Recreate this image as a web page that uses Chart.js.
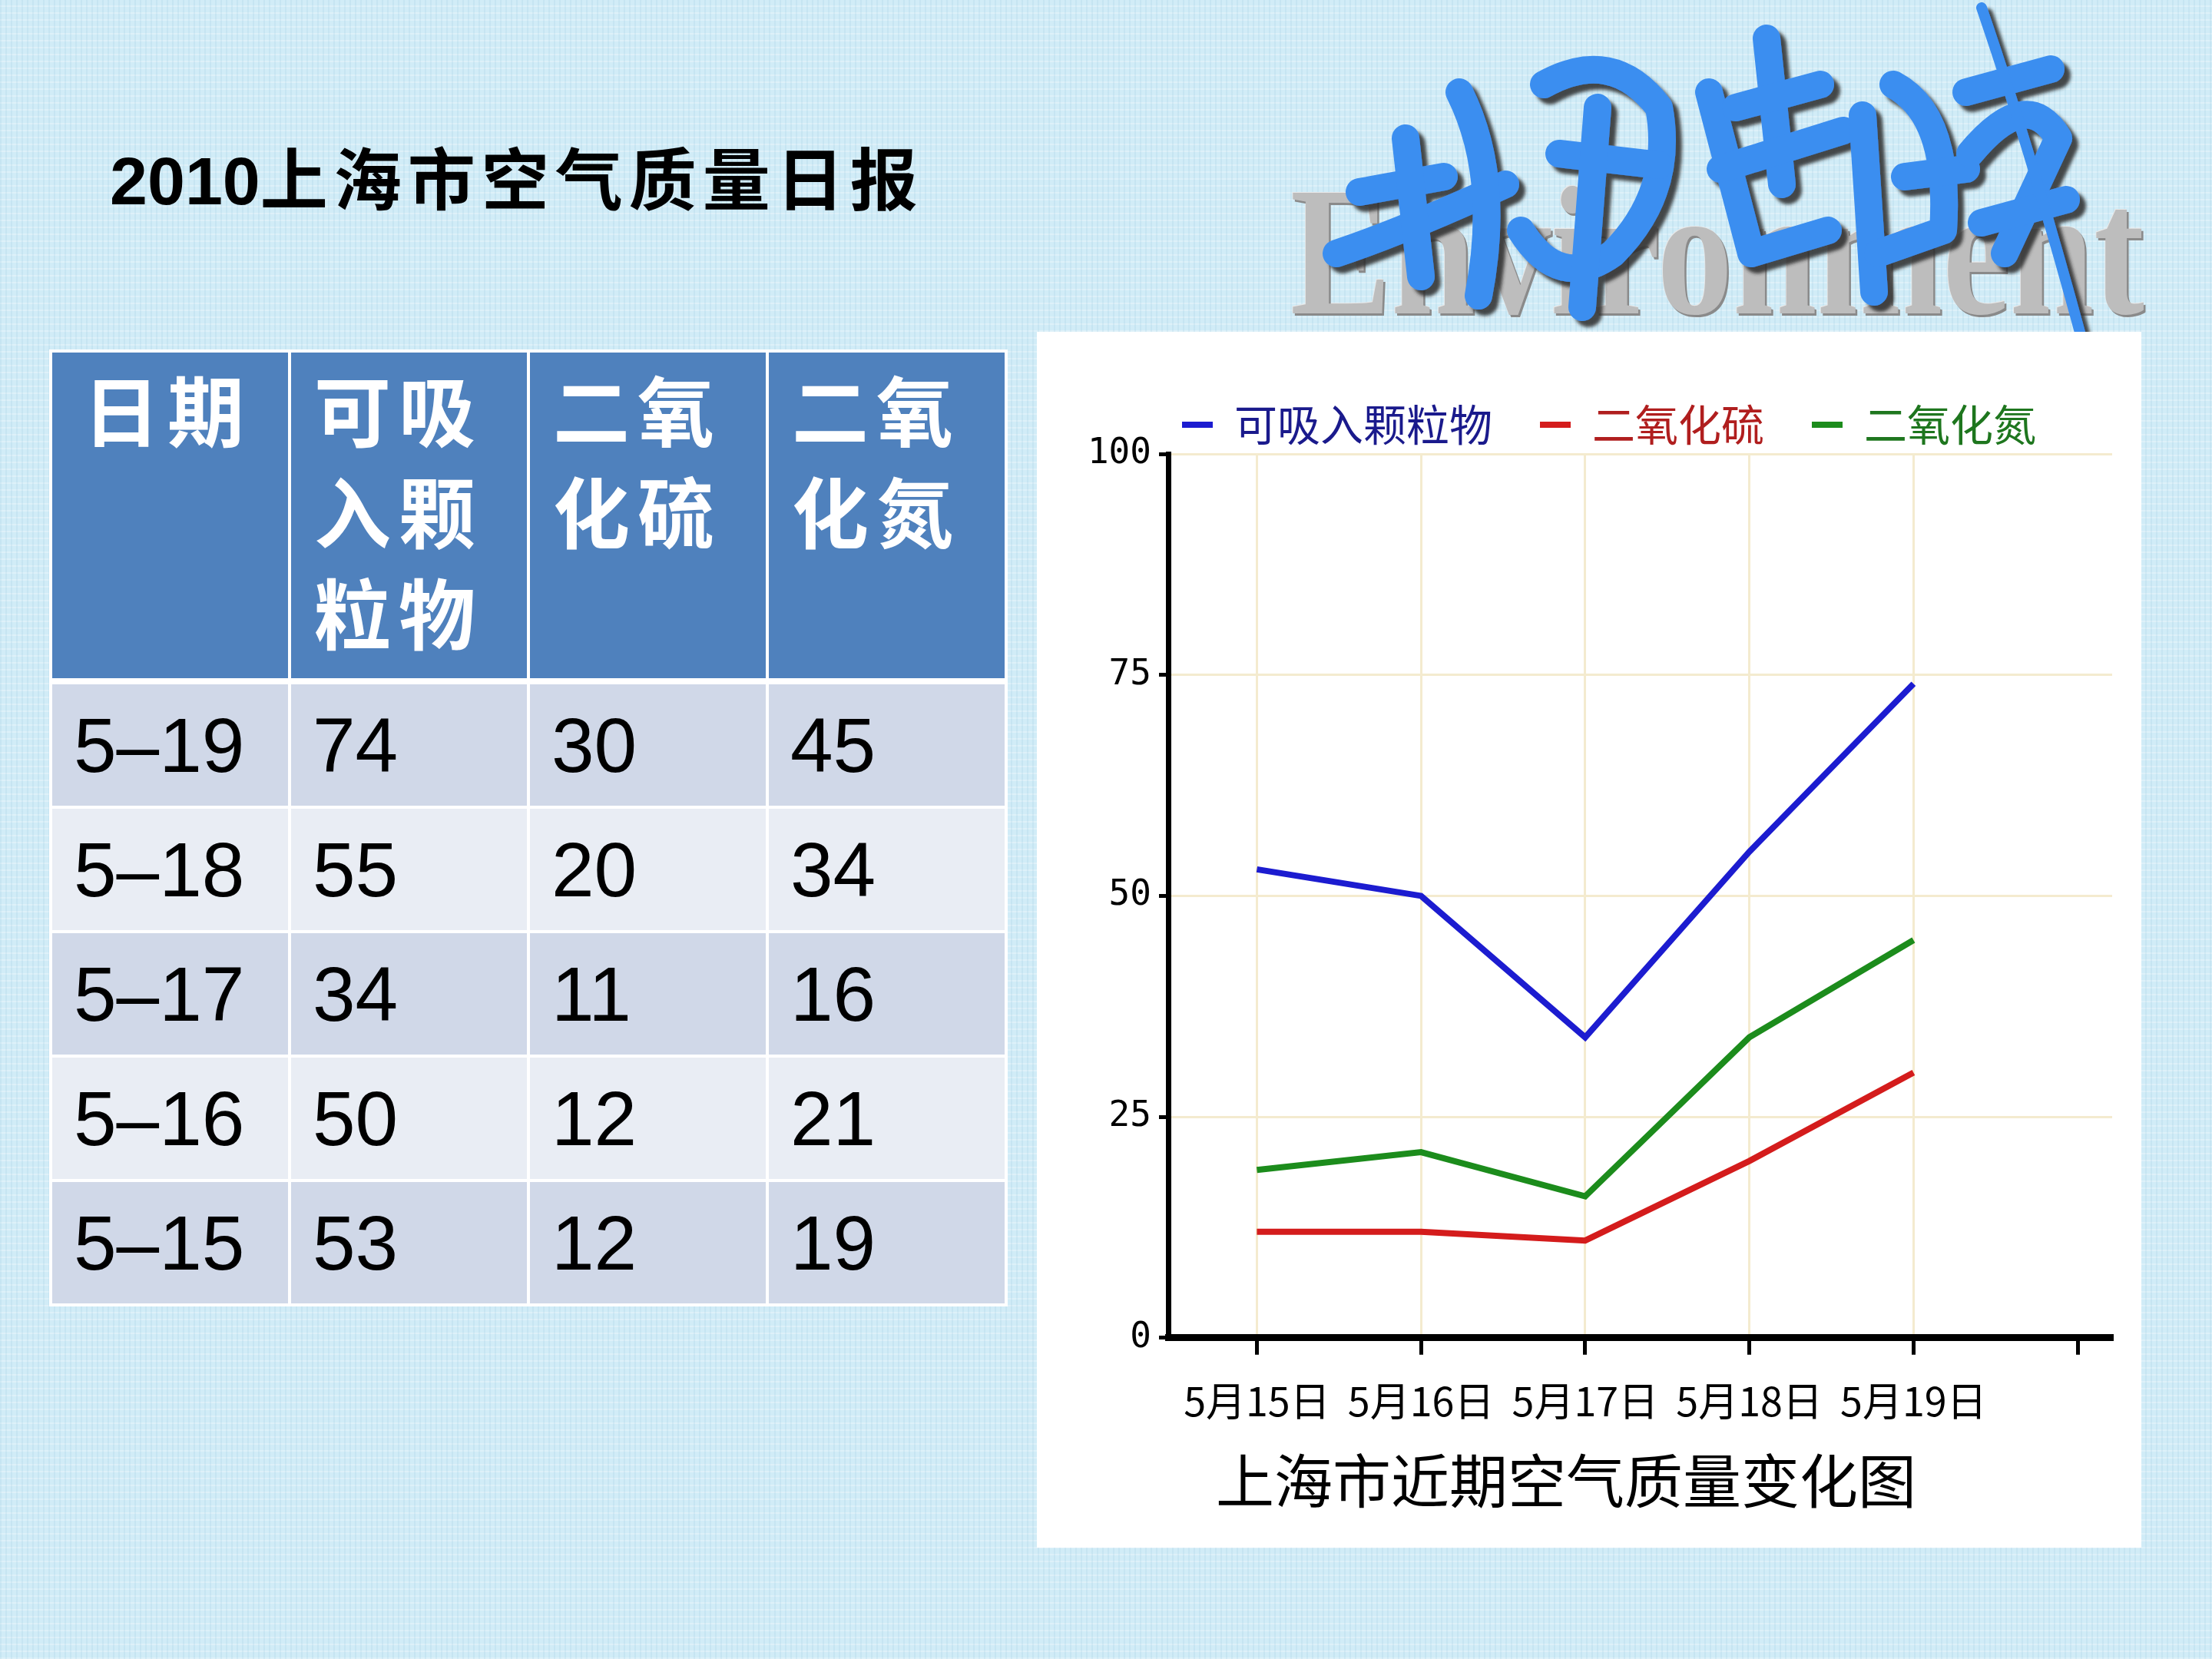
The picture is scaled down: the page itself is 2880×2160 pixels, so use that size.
<!DOCTYPE html>
<html>
<head>
<meta charset="utf-8">
<script src="https://cdn.jsdelivr.net/npm/chart.js"></script>
<style>
html, body { margin: 0; padding: 0; }
body {
  width: 2880px; height: 2160px; position: relative; overflow: hidden;
  background-color: #d1ecf7;
  background-image:
    repeating-linear-gradient(90deg, rgba(140,190,215,0.16) 0 2px, transparent 2px 7px),
    repeating-linear-gradient(0deg, rgba(255,255,255,0.28) 0 2px, transparent 2px 9px);
}
#title {
  position: absolute; left: 143px; top: 178px; line-height: 100px;
  font-size: 88px; font-weight: 700; color: #000; white-space: nowrap;
}
#title .num { font-family: "Liberation Sans", Arial, sans-serif; }
#title .cn { font-family: "Noto Sans CJK SC", sans-serif; letter-spacing: 8px; }

#tbl {
  position: absolute; left: 64px; top: 455px;
  border-collapse: collapse; table-layout: fixed;
}
#tbl th, #tbl td { border: 4px solid #fff; width: 277px; padding: 0 0 0 30px; text-align: left; }
#tbl th {
  background: #4f81bd; color: #fff; vertical-align: top;
  font-family: "Noto Sans CJK SC", sans-serif; font-weight: 700;
  font-size: 100px; line-height: 132px; letter-spacing: 10px;
  padding-top: 6px; border-bottom-width: 8px; height: 418px;
}
#tbl th:first-child { text-indent: 10px; }
#tbl td {
  font-family: "Liberation Sans", Arial, sans-serif; font-size: 100px; color: #000;
  vertical-align: middle; height: 158px; padding-left: 28px;
}
#tbl tr.odd td { background: #d0d8e8; }
#tbl tr.even td { background: #e9edf4; }

#panel { position: absolute; left: 1350px; top: 432px; width: 1438px; height: 1583px; background: #fff; }
#logoText {
  position: absolute; left: 1680px; top: 207px; line-height: 1;
  font-family: "Liberation Serif", serif; font-weight: 700; font-size: 240px;
  color: #bdbdbd; white-space: nowrap; transform-origin: 0 0;
  text-shadow: 3px 3px 0 #8a8a8a, -1px -1px 0 #e8e8e8;
}
#logoArt { position: absolute; left: 1680px; top: 0; }
</style>
</head>
<body>

<div id="title"><span class="num">2010</span><span class="cn">上海市空气质量日报</span></div>

<table id="tbl"></table>

<div id="logoText">Environment</div>
<svg id="logoArt" width="1200" height="460" viewBox="0 0 1200 460">
  <defs>
    <filter id="sh" x="-10%" y="-10%" width="130%" height="130%">
      <feDropShadow dx="8" dy="8" stdDeviation="2" flood-color="#2a2a2a" flood-opacity="0.85"/>
    </filter>
  </defs>
  <g filter="url(#sh)" stroke="#3b8ef0" stroke-width="36" stroke-linecap="round" stroke-linejoin="round" fill="none">
    <path d="M60 330 Q150 300 280 240"/>
    <path d="M90 250 L200 230"/>
    <path d="M150 180 L170 360"/>
    <path d="M220 120 Q275 230 245 385"/>
    <path d="M330 110 Q420 60 480 140 Q500 250 420 330 Q350 380 300 300"/>
    <path d="M350 200 L480 215"/>
    <path d="M400 140 L380 400"/>
    <path d="M545 120 L600 330 L700 300"/>
    <path d="M620 50 L640 240"/>
    <path d="M560 220 L720 170"/>
    <path d="M580 140 L690 110"/>
    <path d="M745 150 L760 380"/>
    <path d="M785 110 Q860 150 850 300 L765 330"/>
    <path d="M800 230 L880 220"/>
    <path d="M885 200 Q960 110 1000 180 L930 330"/>
    <path d="M900 290 L1010 260"/>
    <path d="M880 120 L990 90"/>
    <path d="M900 10 Q965 200 1030 440" stroke-width="14"/>
  </g>
</svg>

<div id="panel"><canvas id="myChart" width="1438" height="1583"></canvas></div>

<script>
// data
var dates = ['5月15日', '5月16日', '5月17日', '5月18日', '5月19日'];
var tableDates = ['5–15', '5–16', '5–17', '5–18', '5–19'];
var pm10 = [53, 50, 34, 55, 74];
var so2 = [12, 12, 11, 20, 30];
var no2 = [19, 21, 16, 34, 45];
var seriesNames = ['可吸入颗粒物', '二氧化硫', '二氧化氮'];
var headers = ['日期', '可吸<br>入颗<br>粒物', '二氧<br>化硫', '二氧<br>化氮'];

var lineColors = ['#1c1cd0', '#d41c1c', '#1c8c1c'];
var legendTextColors = ['#1a1a8c', '#b01e1e', '#1e761e'];

// table, newest day first
var tbl = document.getElementById('tbl');
var html = '<tr>' + headers.map(function (h) { return '<th>' + h + '</th>'; }).join('') + '</tr>';
for (var r = dates.length - 1, k = 0; r >= 0; r--, k++) {
  html += '<tr class="' + (k % 2 === 0 ? 'odd' : 'even') + '">' +
    '<td>' + tableDates[r] + '</td><td>' + pm10[r] + '</td><td>' + so2[r] + '</td><td>' + no2[r] + '</td></tr>';
}
tbl.innerHTML = html;

// stretch the logo word to its width
var lt = document.getElementById('logoText');
lt.style.transform = 'scaleX(' + (1112 / lt.offsetWidth) + ')';

function pts(arr) {
  return arr.map(function (v, i) { return { x: i + 1, y: v }; });
}

// legend and caption are not centred on the canvas in the original
var nudgeBlocks = {
  id: 'nudgeBlocks',
  afterLayout: function (chart) {
    chart.legend.left += 25; chart.legend.right += 25;
    chart.titleBlock.left -= 31; chart.titleBlock.right -= 31;
  }
};

var gridColor = '#f4ebcf';
var ctx = document.getElementById('myChart').getContext('2d');
var myChart = new Chart(ctx, {
  type: 'line',
  plugins: [nudgeBlocks],
  data: {
    datasets: [pm10, so2, no2].map(function (arr, i) {
      return {
        label: seriesNames[i],
        data: pts(arr),
        borderColor: lineColors[i],
        backgroundColor: lineColors[i],
        borderWidth: 8,
        pointRadius: 0,
        tension: 0
      };
    })
  },
  options: {
    responsive: false,
    animation: false,
    layout: { padding: { top: 31, left: 40, right: 38, bottom: 0 } },
    plugins: {
      tooltip: { enabled: false },
      legend: {
        position: 'top',
        maxHeight: 134,
        labels: {
          font: { family: 'Noto Sans CJK SC', size: 56 },
          boxWidth: 40,
          boxHeight: 8,
          padding: 62,
          generateLabels: function (chart) {
            var items = Chart.defaults.plugins.legend.labels.generateLabels(chart);
            items.forEach(function (it, i) {
              it.fontColor = legendTextColors[i];
              it.fillStyle = lineColors[i];
              it.strokeStyle = lineColors[i];
              it.lineWidth = 0;
            });
            return items;
          }
        }
      },
      title: {
        display: true,
        position: 'bottom',
        text: '上海市近期空气质量变化图',
        color: '#000',
        font: { family: 'Noto Sans CJK SC', size: 76, weight: 'normal' },
        padding: { top: 0, bottom: 41 }
      }
    },
    scales: {
      x: {
        type: 'linear',
        min: 0.46,
        max: 6.21,
        afterBuildTicks: function (axis) {
          axis.ticks = [1, 2, 3, 4, 5, 6].map(function (v) { return { value: v }; });
        },
        afterFit: function (s) { s.height = 141; },
        border: { color: '#000', width: 9 },
        grid: {
          color: function (c) { return c.tick && c.tick.value <= dates.length ? gridColor : 'rgba(0,0,0,0)'; },
          lineWidth: 3,
          tickColor: '#000',
          tickWidth: 5,
          tickLength: 22
        },
        ticks: {
          autoSkip: false,
          maxRotation: 0,
          padding: 29,
          color: '#000',
          font: { family: 'Noto Sans CJK SC', size: 52 },
          callback: function (v) { return dates[v - 1] || ''; }
        }
      },
      y: {
        min: 0,
        max: 100,
        afterFit: function (s) { s.width = 131; },
        border: { color: '#000', width: 7 },
        grid: {
          color: function (c) { return c.tick && c.tick.value === 0 ? 'rgba(0,0,0,0)' : gridColor; },
          lineWidth: 3,
          tickColor: '#000',
          tickWidth: 5,
          tickLength: 12
        },
        ticks: {
          stepSize: 25,
          padding: 10,
          color: '#000',
          font: { family: 'DejaVu Sans Mono', size: 46 }
        }
      }
    }
  }
});
</script>
</body>
</html>
